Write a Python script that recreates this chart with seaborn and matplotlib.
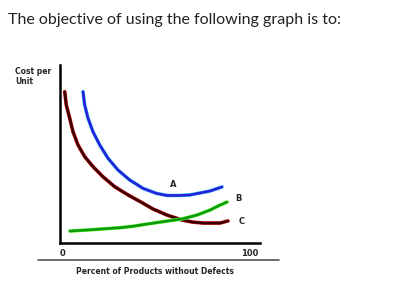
import matplotlib
matplotlib.use("Agg")
import matplotlib.pyplot as plt
import matplotlib.patheffects as pe
from matplotlib.lines import Line2D
import seaborn as sns
import pandas as pd

title_text = "The objective of using the following graph is to:"
y_label = "Cost per\nUnit"
x_label = "Percent of Products without Defects"
tick_positions = [1, 95]
tick_labels = ["0", "100"]

red_x = [2.35, 3.15, 4.85, 6.5, 9, 12.35, 16.5, 21.5, 27.35, 34, 40.65, 46.5, 53.5, 61, 66, 71.5, 80, 84]
red_y = [85.0, 77.5, 70.1, 62.5, 55.1, 48.5, 42.9, 37.2, 31.6, 27.0, 22.9, 19.1, 15.7, 12.9, 11.8, 11.2, 11.2, 12.4]
blue_x = [11.5, 12.35, 14, 16.5, 19.85, 24, 29, 34.85, 41.5, 48.15, 53.5, 60, 65, 70, 75, 81]
blue_y = [85.0, 77.5, 70.1, 62.5, 55.1, 47.6, 41.0, 35.4, 30.7, 27.9, 26.7, 26.7, 27.0, 28.1, 29.2, 31.5]
green_x = [5, 15, 25, 30, 36.5, 45, 53.5, 61, 68.5, 75, 80, 83.5]
green_y = [6.7, 7.4, 8.2, 8.6, 9.4, 10.9, 12.3, 13.5, 15.7, 18.5, 21.3, 23.0]
curve_labels = ["A", "B", "C"]

sns.set_style("white")

fig = plt.figure(figsize=(4.11, 3.08), dpi=100)
ax = fig.add_axes([60 / 411, 1 - 243 / 308, 200 / 411, 178 / 308])

series = [
    (blue_x, blue_y, "#2a1fd8", "#33ccff"),
    (red_x, red_y, "#3a0000", "#e01010"),
    (green_x, green_y, "#0c9a0c", "#66ff33"),
]
for xs, ys, col, edge in series:
    df = pd.DataFrame({"x": xs, "y": ys})
    sns.lineplot(data=df, x="x", y="y", ax=ax, color=col, linewidth=1.9,
                 estimator=None, sort=False, solid_joinstyle="round",
                 solid_capstyle="round",
                 path_effects=[pe.Stroke(linewidth=2.6, foreground=edge), pe.Normal()])

ax.set_xlim(0, 100)
ax.set_ylim(0, 100)
for s in ["top", "right"]:
    ax.spines[s].set_visible(False)
for s in ["left", "bottom"]:
    ax.spines[s].set_visible(True)
    ax.spines[s].set_color("black")
    ax.spines[s].set_linewidth(1.8)
ax.set_xticks(tick_positions)
ax.set_xticklabels(tick_labels, fontsize=6, fontweight="bold", family="DejaVu Sans")
ax.tick_params(axis="x", length=0, pad=4)
ax.set_yticks([])
ax.set_xlabel("")
ax.set_ylabel("")

lab_font = dict(fontsize=6, fontweight="bold", family="DejaVu Sans")
ax.text(56.5, 33, curve_labels[0], ha="center", va="center", **lab_font)
ax.text(89, 25, curve_labels[1], ha="center", va="center", **lab_font)
ax.text(91, 12, curve_labels[2], ha="center", va="center", **lab_font)

fig.text(15 / 411, 1 - 67 / 308, y_label, ha="left", va="top", fontsize=5.5,
         fontweight="bold", family="DejaVu Sans", linespacing=1.1)
fig.text(155 / 411, 1 - 271 / 308, x_label, ha="center", va="center", fontsize=5.5,
         fontweight="bold", family="DejaVu Sans")
fig.text(8 / 411, 1 - 20 / 308, title_text, ha="left", va="center", fontsize=11.5,
         family="Lato", color="#222222")
fig.add_artist(Line2D([38 / 411, 279 / 411], [1 - 260 / 308, 1 - 260 / 308],
                      transform=fig.transFigure, color="#555555", linewidth=1.2))

fig.savefig("out.png", dpi=100)
